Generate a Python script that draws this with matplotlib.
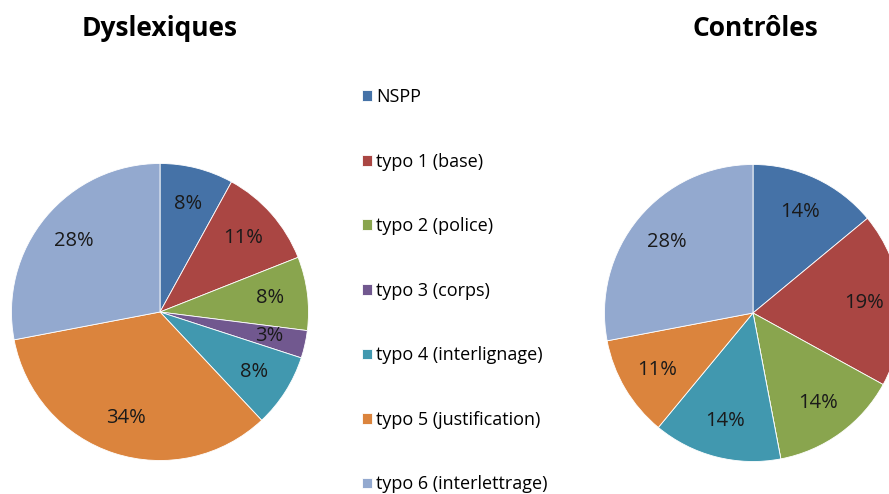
import matplotlib
matplotlib.use('Agg')
import matplotlib.pyplot as plt

# categories and shares (percent)
categories = ['NSPP', 'typo 1 (base)', 'typo 2 (police)', 'typo 3 (corps)',
              'typo 4 (interlignage)', 'typo 5 (justification)', 'typo 6 (interlettrage)']
dyslexiques = [8, 11, 8, 3, 8, 34, 28]
controles = [14, 19, 14, 0, 14, 11, 28]

colors = ['#4572A7', '#AA4643', '#89A54E', '#71588F', '#4198AF', '#DB843D', '#93A9CF']

plt.rcParams['font.family'] = ['Open Sans', 'DejaVu Sans']

fig = plt.figure(figsize=(8.89, 4.94), dpi=100)


def pct(p):
    # no label for an empty slice
    if p < 0.5:
        return ''
    return '%d%%' % round(p)


def draw_pie(rect, values):
    ax = fig.add_axes(rect)
    wedges, texts, autotexts = ax.pie(values, colors=colors, startangle=90, counterclock=False,
                                      autopct=pct, pctdistance=0.75,
                                      wedgeprops=dict(edgecolor='white', linewidth=0.6),
                                      textprops=dict(fontsize=14.5, color='#1a1a1a'))
    ax.set_xlim(-1.01, 1.01)
    ax.set_ylim(-1.01, 1.01)
    ax.set_aspect('equal')
    ax.axis('off')
    return wedges


W, H = 889.0, 494.0
wedges = draw_pie([10 / W, (H - 462) / H, 300 / W, 300 / H], dyslexiques)
draw_pie([603 / W, (H - 463) / H, 300 / W, 300 / H], controles)

fig.text(160 / W, 1 - 29 / H, 'Dyslexiques', ha='center', va='center', fontsize=19, fontweight='bold')
fig.text(755 / W, 1 - 29 / H, 'Contrôles', ha='center', va='center', fontsize=19, fontweight='bold')

fig.legend(wedges, categories, loc='upper left', bbox_to_anchor=(362 / W, 1 - 88 / H),
           frameon=False, fontsize=13, labelspacing=2.58, handlelength=0.54, handleheight=0.54,
           handletextpad=0.25, borderaxespad=0, borderpad=0)

fig.savefig('out.png', dpi=100, facecolor='white')
